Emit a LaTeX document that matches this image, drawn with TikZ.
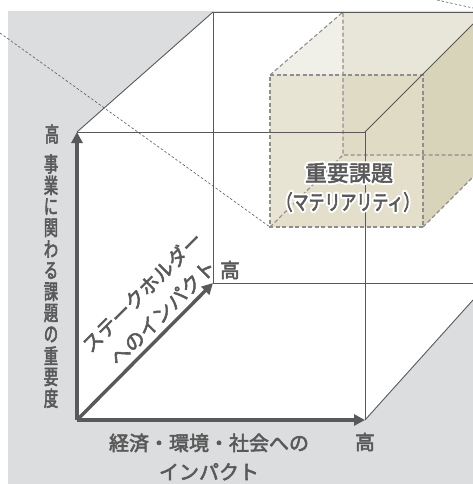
\documentclass[tikz,border=0pt]{standalone}
\usepackage{fontspec}
\setmainfont{Noto Sans CJK JP}
\newfontfamily\jp{Noto Sans CJK JP}
\newfontfamily\jpc[FakeStretch=0.68]{Noto Sans CJK JP}
\newfontfamily\jpm[FakeStretch=0.76]{Noto Sans CJK JP}
\usetikzlibrary{arrows.meta,calc}
\definecolor{txt}{HTML}{595959}
\definecolor{bggray}{HTML}{DCDDDF}
\definecolor{boxdash}{HTML}{8E8E8E}
\definecolor{fA}{HTML}{F0EFE8}
\definecolor{fB}{HTML}{E8E6D8}
\definecolor{fC}{HTML}{E7E4D3}
\definecolor{fD}{HTML}{DFDBC4}
\definecolor{fE}{HTML}{E3DFCA}
\definecolor{fF}{HTML}{D8D4B9}
\newcommand{\embon}{\special{pdf:literal direct 0.349 0.349 0.349 RG 2 Tr 0.55 w 1 j}}
\newcommand{\troff}{\special{pdf:literal direct 0 Tr}}
\newcommand{\halotext}[1]{\special{pdf:literal direct 1 1 1 RG 2 Tr 4.6 w 1 j}#1\special{pdf:literal direct 0 Tr}}
\tikzset{
  cubeline/.style={draw=txt, line width=0.9pt},
  boxedge/.style={draw=boxdash, line width=1.1pt, dash pattern=on 4pt off 2.5pt},
  guide/.style={draw=txt, line width=0.6pt, dash pattern=on 2.5pt off 2pt},
  axisarrow/.style={draw=txt, line width=3.4pt, -{Triangle[length=11pt,width=11pt]}},
  emb/.style={execute at begin node=\embon, execute at end node=\troff},
  lbl/.style={emb, text=txt, inner sep=0pt, font=\jp\fontsize{20pt}{29pt}\selectfont, align=center},
  vlbl/.style={emb, text=txt, inner sep=0pt, font=\jpc\fontsize{21pt}{21pt}\selectfont},
  halo/.style={text=white, inner sep=0pt},
  matlbl/.style={emb, text=txt, inner sep=0pt},
}
\begin{document}
\begin{tikzpicture}[x=1pt,y=-1pt]
\useasboundingbox (0,0) rectangle (473,484);
% cube corners
\coordinate (o) at (77,420);
\coordinate (ftl) at (77,132);
\coordinate (ftr) at (365,132);
\coordinate (fbr) at (365,420);
\coordinate (btl) at (213,12);
\coordinate (bbl) at (213,283);
\coordinate (btr) at (473,12);
\coordinate (bbr) at (473,283);
\coordinate (ertop) at (473,24);
\coordinate (erbot) at (473,300);
% background
\fill[bggray, even odd rule] (8,11) rectangle (473,484)
  (ftl) -- (btl) -- (btr) -- (erbot) -- (fbr) -- (o) -- cycle;
% material box
\coordinate (m1) at (270,75);
\coordinate (m2) at (423,75);
\coordinate (m3) at (423,227);
\coordinate (m4) at (270,227);
\coordinate (k1) at (343,12);
\coordinate (k2) at (343,155);
\coordinate (k3) at (473,155);
\coordinate (k4) at (473,177);
\fill[fA] (m1) -- (k1) -- (343,75) -- cycle;
\fill[fB] (k1) -- (btr) -- (ertop) -- (m2) -- (343,75) -- cycle;
\fill[fC] (m1) -- (343,75) -- (k2) -- (m4) -- cycle;
\fill[fD] (343,75) -- (m2) -- (423,155) -- (k2) -- cycle;
\fill[fE] (m4) -- (k2) -- (423,155) -- (m3) -- cycle;
\fill[fF] (m2) -- (ertop) -- (k4) -- (m3) -- cycle;
\draw[boxedge] (m1) -- (m2) -- (m3) -- (m4) -- cycle;
\draw[boxedge] (m1) -- (k1) -- (k2) -- (k3);
\draw[boxedge] (m4) -- (k2);
\draw[boxedge] (m3) -- (k4);
% cube lines
\draw[cubeline] (btl) -- (btr);
\draw[cubeline] (btl) -- (bbl) -- (bbr);
\draw[cubeline] (ftl) -- (btl);
\draw[cubeline] (ftl) -- (ftr) -- (fbr);
\draw[cubeline] (ftr) -- (ertop);
\draw[cubeline] (fbr) -- (erbot);
% axes
\draw[axisarrow] (o) -- (ftl);
\draw[axisarrow] (o) -- (fbr);
\draw[axisarrow] (o) -- (bbl);
% guide lines
\coordinate (g1) at (0,33);
\coordinate (g2) at (437,0);
\coordinate (g3) at (473,8);
\draw[guide] (g1) -- (m4);
\draw[guide] (g2) -- (g3);
% labels
\node[vlbl] (hiY) at (52,134) {高};
\foreach \c [count=\i from 0] in {事,業,に,関,わ,る,課,題,の,重,要,度} {
  \node[vlbl] (v\i) at (51,{164+\i*21.3}) {\c};
}
\node[lbl] (xlab) at (209,457) {経済・環境・社会への\\インパクト};
\node[lbl] (hiX) at (365,442) {高};
\node[lbl] (hiZ) at (230,270) {高};
\node[lbl, rotate=45] (zlab) at (152,302) {ステークホルダー\\へのインパクト};
\node[halo, font=\jp\fontsize{22pt}{22pt}\selectfont] (mat1h) at (349,173) {\halotext{重要課題}};
\node[halo, font=\jpm\fontsize{21pt}{21pt}\selectfont] (mat2h) at (348,202) {\halotext{（マテリアリティ）}};
\node[matlbl, font=\jp\fontsize{22pt}{22pt}\selectfont] (mat1) at (349,173) {重要課題};
\node[matlbl, font=\jpm\fontsize{21pt}{21pt}\selectfont] (mat2) at (348,202) {（マテリアリティ）};
\end{tikzpicture}
\end{document}
